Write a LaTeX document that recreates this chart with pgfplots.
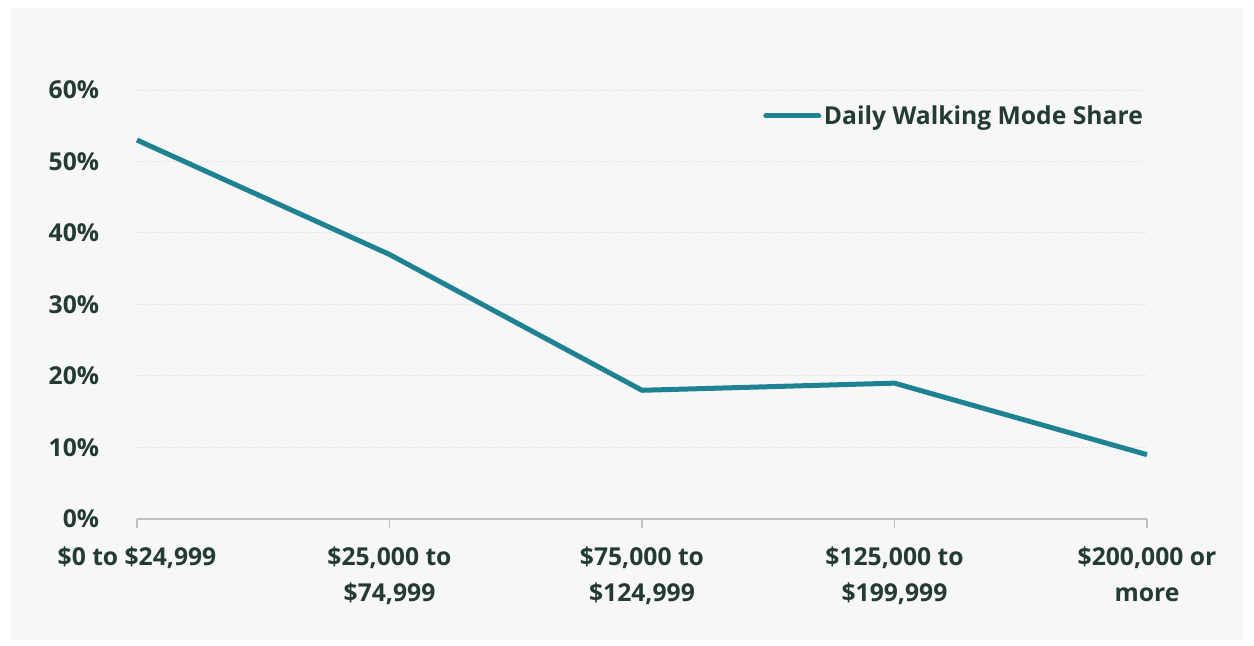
\documentclass[border=0pt]{standalone}
\usepackage{fontspec}
\setmainfont{Open Sans}
\usepackage{pgfplots}
\pgfplotsset{compat=1.18}
\definecolor{txt}{HTML}{233A35}
\definecolor{teal}{HTML}{1F8292}
\definecolor{panel}{HTML}{F7F7F7}
\definecolor{gridc}{HTML}{D4D4D4}
\definecolor{axc}{HTML}{BFBFBF}
\begin{document}
\begin{tikzpicture}
\fill[white] (0,0) rectangle (940.5pt,484.5pt);
\fill[panel] (8.25pt,4.5pt) rectangle (932.25pt,478.5pt);
\begin{axis}[
  at={(102.75pt,95.25pt)}, anchor=south west,
  scale only axis, width=757.5pt, height=321.75pt,
  xmin=0, xmax=4, ymin=0, ymax=60,
  xtick={0,1,2,3,4},
  xticklabels={{\$0 to \$24,999},{\$25,000 to\\\$74,999},{\$75,000 to\\\$124,999},{\$125,000 to\\\$199,999},{\$200,000 or\\more}},
  ytick={0,10,20,30,40,50,60},
  yticklabels={0\%,10\%,20\%,30\%,40\%,50\%,60\%},
  axis x line*=bottom, axis y line*=left,
  y axis line style={draw=none},
  x axis line style={draw=axc, line width=1pt, -},
  tick align=outside,
  major tick length=6.75pt,
  xtick style={draw=axc, line width=1pt},
  ytick style={draw=none},
  ymajorgrids, grid style={gridc, dotted, line width=0.75pt},
  tick label style={font=\bfseries\fontsize{18.5}{27}\selectfont, text=txt},
  xticklabel style={align=center, inner sep=0pt, yshift=-14pt},
  yticklabel style={anchor=east, inner sep=0pt, xshift=-21.5pt},
  legend style={at={(0.6198,0.9394)}, anchor=west, draw=none, fill=none, inner sep=0pt,
    font=\bfseries\fontsize{18.5}{23}\selectfont, text=txt},
  legend image code/.code={\draw[#1, line cap=round] (0pt,0pt) -- (39.75pt,0pt);},
  clip=false,
]
\addplot[teal, line width=3.75pt, line join=round] coordinates {
  (0,53) (1,37) (2,18) (3,19) (4,9)
};
\addlegendentry{Daily Walking Mode Share}
\end{axis}
\pgfresetboundingbox
\path (0,0) rectangle (940.5pt,484.5pt);
\end{tikzpicture}
\end{document}
